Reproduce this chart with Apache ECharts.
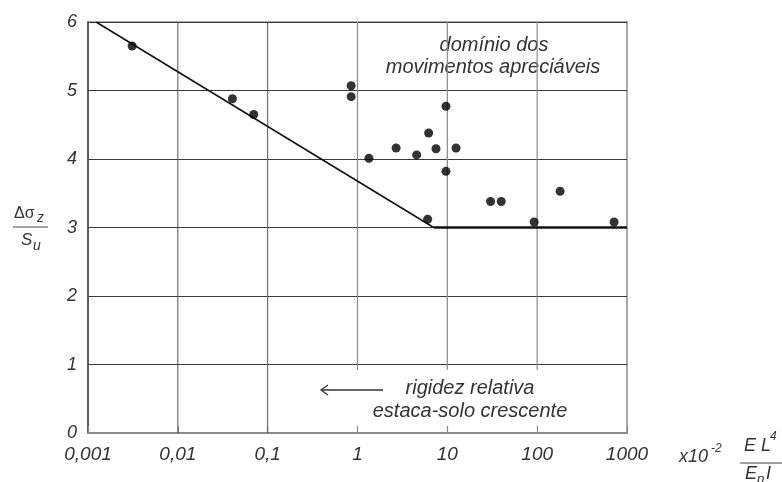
<!DOCTYPE html>
<html><head><meta charset="utf-8">
<script src="https://cdn.jsdelivr.net/npm/echarts@6/dist/echarts.min.js"></script>
<style>html,body{margin:0;padding:0;background:#fff}#c{width:782px;height:482px}</style>
</head><body><div id="c"></div>
<script>
// ---- data ----
const xTickValues = [0.001, 0.01, 0.1, 1, 10, 100, 1000];
const xTickLabels = ['0,001', '0,01', '0,1', '1', '10', '100', '1000'];
const yTicks = [0, 1, 2, 3, 4, 5, 6];
const pointsX = [0.0031, 0.0405, 0.070, 0.85, 0.85, 1.34, 2.69, 4.56, 6.19, 7.48, 9.66, 9.66, 12.5, 6.04, 30.3, 39.8, 180, 92.6, 718];
const pointsY = [5.65, 4.88, 4.65, 5.07, 4.91, 4.01, 4.16, 4.06, 4.38, 4.15, 4.77, 3.82, 4.16, 3.12, 3.38, 3.38, 3.53, 3.08, 3.08];
const limitX = [0.00123, 7.05, 1000];
const limitY = [6, 3, 3];
const fullGridX = [0.01, 0.1];
const shortGridX = [1, 10, 100];
const shortGridFrom = 0.92;

const FONT = '"Liberation Sans", Arial, sans-serif';
const TXT = '#333';

const chart = echarts.init(document.getElementById('c'), null, {renderer: 'canvas'});

const series = [];
fullGridX.forEach(x => series.push({
  type: 'line', silent: true, symbol: 'none', z: 1,
  lineStyle: {color: '#555', width: 1},
  data: [[x, yTicks[0]], [x, yTicks[yTicks.length - 1]]]
}));
shortGridX.forEach(x => series.push({
  type: 'line', silent: true, symbol: 'none', z: 1,
  lineStyle: {color: '#8a8a8a', width: 1.2},
  data: [[x, shortGridFrom], [x, yTicks[yTicks.length - 1]]]
}));
series.push({
  type: 'line', silent: true, symbol: 'none', z: 3,
  lineStyle: {color: '#111', width: 1.5},
  data: [[limitX[0], limitY[0]], [limitX[1], limitY[1]]]
});
series.push({
  type: 'line', silent: true, symbol: 'none', z: 3,
  lineStyle: {color: '#111', width: 2.5},
  data: [[limitX[1], limitY[1]], [limitX[2], limitY[2]]]
});
series.push({
  type: 'scatter', z: 4, symbol: 'circle', symbolSize: 9,
  itemStyle: {color: '#000'},
  data: pointsX.map((x, i) => [x, pointsY[i]])
});

function labelFor(v) {
  let best = 0, bd = Infinity;
  xTickValues.forEach((t, i) => {
    const d = Math.abs(Math.log10(v) - Math.log10(t));
    if (d < bd) { bd = d; best = i; }
  });
  return xTickLabels[best];
}

function txt(text, x, y, font, align) {
  return {type: 'text', x: x, y: y, silent: true,
    style: {text: text, fill: TXT, font: font, textAlign: align || 'left', textVerticalAlign: 'middle'}};
}

chart.setOption({
  animation: false,
  backgroundColor: '#fff',
  grid: {left: 88, right: 155, top: 22, bottom: 49, show: true, borderColor: '#aaa', borderWidth: 2, backgroundColor: 'transparent'},
  xAxis: {
    type: 'log', logBase: 10, min: xTickValues[0], max: xTickValues[xTickValues.length - 1],
    axisLine: {show: true, lineStyle: {color: '#888', width: 2}},
    axisTick: {show: true, inside: true, length: 7, lineStyle: {color: '#888', width: 1.2}},
    splitLine: {show: false},
    minorTick: {show: false},
    axisLabel: {
      formatter: v => labelFor(v), fontSize: 19, fontStyle: 'italic', fontFamily: FONT, color: TXT, margin: 12
    }
  },
  yAxis: {
    type: 'value', min: yTicks[0], max: yTicks[yTicks.length - 1], interval: 1,
    axisLine: {show: true, lineStyle: {color: '#444', width: 1.5}},
    axisTick: {show: false},
    splitLine: {show: true, lineStyle: {color: '#3a3a3a', width: 1}},
    axisLabel: {fontSize: 18, fontStyle: 'italic', fontFamily: FONT, color: TXT, margin: 11, padding: [3, 0, 0, 0]}
  },
  series: series,
  graphic: [
    // top annotation
    txt('domínio dos', 494, 45, 'italic 20px ' + FONT, 'center'),
    txt('movimentos apreciáveis', 493, 67, 'italic 20px ' + FONT, 'center'),
    // bottom annotation
    txt('rigidez relativa', 470, 388, 'italic 20px ' + FONT, 'center'),
    txt('estaca-solo crescente', 470, 411, 'italic 20px ' + FONT, 'center'),
    {type: 'line', silent: true, shape: {x1: 322, y1: 390, x2: 383, y2: 390}, style: {stroke: '#333', lineWidth: 1.3}},
    {type: 'polyline', silent: true, shape: {points: [[328, 385], [321, 390], [328, 395]]}, style: {stroke: '#333', lineWidth: 1.3, fill: null}},
    // y axis name: Δσz / Su
    txt('Δσ', 14, 214, '16px ' + FONT),
    txt('z', 37, 218, 'italic 14px ' + FONT),
    {type: 'line', silent: true, shape: {x1: 13, y1: 227, x2: 48, y2: 227}, style: {stroke: '#444', lineWidth: 1.2}},
    txt('S', 21, 240, 'italic 17px ' + FONT),
    txt('u', 33, 246, 'italic 14px ' + FONT),
    // x axis name: x10^-2 EL^4 / E_p I
    txt('x10', 679, 457, 'italic 18px ' + FONT),
    txt('-2', 711, 449, 'italic 12px ' + FONT),
    txt('E L', 744, 446, 'italic 18px ' + FONT),
    txt('4', 770, 437, 'italic 12px ' + FONT),
    {type: 'line', silent: true, shape: {x1: 740, y1: 463, x2: 782, y2: 463}, style: {stroke: '#444', lineWidth: 1.2}},
    txt('E', 745, 474, 'italic 18px ' + FONT),
    txt('p', 757, 479, 'italic 13px ' + FONT),
    txt('I', 766, 474, 'italic 18px ' + FONT)
  ]
});
</script></body></html>
